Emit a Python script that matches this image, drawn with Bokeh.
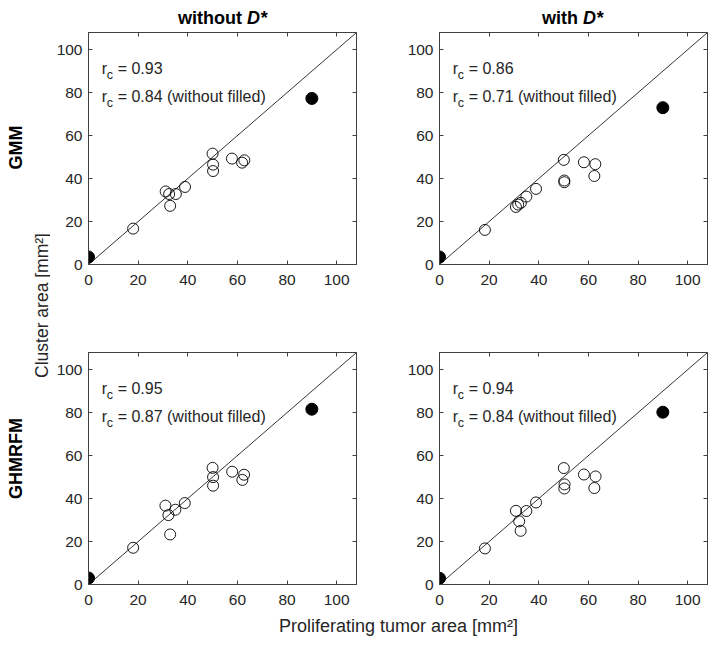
from math import pi
from bokeh.plotting import figure
from bokeh.layouts import row, column
from bokeh.models import Range1d, LinearAxis, FixedTicker, Label
from bokeh.embed import file_html
from bokeh.resources import INLINE

FONT = "Liberation Sans"
INK = "#262626"

# ---------------- data ----------------
ticks = [0, 20, 40, 60, 80, 100]
axis_limits = [0, 108]
identity = [0, 108]

col_titles = ["without", "with"]
col_titles_italic = "D*"
row_titles = ["GMM", "GHMRFM"]
x_label = "Proliferating tumor area [mm²]"
y_label = "Cluster area [mm²]"

filled_x = [0, 90]

# GMM, without D*
gmm_wo_x = [18.0, 31.1, 32.5, 32.9, 35.2, 38.9, 50.0, 50.2, 50.2, 57.8, 61.9, 62.8]
gmm_wo_y = [16.7, 34.0, 32.8, 27.3, 32.8, 36.1, 51.6, 46.5, 43.5, 49.3, 47.4, 48.5]
gmm_wo_filled_y = [3.5, 77.3]
gmm_wo_rc = ["0.93", "0.84"]

# GMM, with D*
gmm_w_x = [18.3, 30.8, 31.7, 32.8, 35.0, 38.9, 50.1, 50.3, 50.3, 58.2, 62.4, 62.8]
gmm_w_y = [16.1, 26.8, 27.9, 28.7, 31.6, 35.2, 48.7, 39.1, 38.3, 47.6, 41.2, 46.7]
gmm_w_filled_y = [3.5, 73.0]
gmm_w_rc = ["0.86", "0.71"]

# GHMRFM, without D*
ghm_wo_x = [18.0, 31.0, 32.2, 32.9, 35.0, 38.8, 50.0, 50.2, 50.2, 57.9, 62.7, 62.0]
ghm_wo_y = [17.1, 36.7, 32.3, 23.3, 34.8, 37.9, 54.3, 50.0, 46.0, 52.5, 51.1, 48.7]
ghm_wo_filled_y = [3.0, 81.6]
ghm_wo_rc = ["0.95", "0.87"]

# GHMRFM, with D*
ghm_w_x = [18.3, 30.8, 32.1, 32.7, 35.0, 38.9, 50.1, 50.4, 50.3, 58.2, 62.9, 62.4]
ghm_w_y = [16.8, 34.3, 29.4, 25.0, 34.2, 38.2, 54.2, 46.6, 44.7, 51.2, 50.3, 44.9]
ghm_w_filled_y = [2.9, 80.2]
ghm_w_rc = ["0.94", "0.84"]


def style_axis(ax, show_labels):
    ax.ticker = FixedTicker(ticks=ticks)
    ax.minor_tick_line_color = None
    ax.major_tick_in = 4
    ax.major_tick_out = 0
    ax.axis_line_color = "#404040"
    ax.major_tick_line_color = "#404040"
    ax.major_label_text_font = FONT
    if show_labels:
        ax.major_label_text_font_size = "15.5px"
        ax.major_label_text_color = INK
    else:
        ax.major_label_text_font_size = "0px"
        ax.major_label_text_color = None
        ax.major_label_standoff = 0


def panel(ox, oy, fy, rc, width, height, bl, br, bt, bb):
    p = figure(width=width, height=height, output_backend="svg",
               toolbar_location=None,
               x_range=Range1d(*axis_limits), y_range=Range1d(*axis_limits),
               min_border_left=bl, min_border_right=br,
               min_border_top=bt, min_border_bottom=bb)
    p.grid.visible = False
    p.outline_line_color = "#404040"
    p.background_fill_color = "white"
    p.border_fill_color = "white"
    style_axis(p.xaxis[0], True)
    style_axis(p.yaxis[0], True)
    p.xaxis[0].major_label_standoff = 10
    p.yaxis[0].major_label_standoff = 6
    top = LinearAxis()
    right = LinearAxis()
    style_axis(top, False)
    style_axis(right, False)
    p.add_layout(top, "above")
    p.add_layout(right, "right")

    p.line(identity, identity, line_color="black", line_width=0.8)
    p.scatter(ox, oy, size=11, marker="circle", fill_color=None,
              line_color="black", line_width=0.9)
    p.scatter(filled_x, fy, size=12, marker="circle", fill_color="black",
              line_color="black")

    for yb, val, suffix in [(91.3, rc[0], ""), (78.1, rc[1], " (without filled)")]:
        p.add_layout(Label(x=5.3, y=yb, text="r", text_font=FONT,
                           text_font_size="16px", text_color=INK,
                           text_baseline="alphabetic"))
        p.add_layout(Label(x=5.3, y=yb, x_offset=5, y_offset=-6.5, text="c",
                           text_font=FONT, text_font_size="12.5px",
                           text_color=INK, text_baseline="alphabetic"))
        p.add_layout(Label(x=5.3, y=yb, x_offset=16, text="= " + val + suffix,
                           text_font=FONT, text_font_size="16px",
                           text_color=INK, text_baseline="alphabetic"))
    return p


tl = panel(gmm_wo_x, gmm_wo_y, gmm_wo_filled_y, gmm_wo_rc, 316, 265, 38, 10, 1, 32)
tr = panel(gmm_w_x, gmm_w_y, gmm_w_filled_y, gmm_w_rc, 342, 265, 73, 1, 1, 32)
bl = panel(ghm_wo_x, ghm_wo_y, ghm_wo_filled_y, ghm_wo_rc, 316, 316, 38, 10, 56, 28)
br = panel(ghm_w_x, ghm_w_y, ghm_w_filled_y, ghm_w_rc, 342, 316, 73, 1, 56, 28)


def strip(w, h):
    s = figure(width=w, height=h, output_backend="svg", toolbar_location=None,
               x_range=Range1d(0, w), y_range=Range1d(h, 0),
               x_axis_type=None, y_axis_type=None, min_border=0)
    s.grid.visible = False
    s.outline_line_color = None
    s.border_fill_color = "white"
    s.background_fill_color = "white"
    return s


def bold_label(s, x, y, text, style="bold", align="left"):
    s.add_layout(Label(x=x, y=y, text=text, text_align=align,
                       text_baseline="alphabetic", text_font=FONT,
                       text_font_size="18px", text_font_style=style,
                       text_color="black"))


# column titles: "without D*" centred over the left column, "with D*" over the right
top = strip(658, 31)
bold_label(top, 172 + 19.5, 17, col_titles[0], align="right")
bold_label(top, 172 + 24.5, 17, col_titles_italic, style="bold italic")
bold_label(top, 522 + 5.5, 17, col_titles[1], align="right")
bold_label(top, 522 + 10.5, 17, col_titles_italic, style="bold italic")

left = strip(50, 646)
for yc, txt in [(147, row_titles[0]), (458, row_titles[1])]:
    left.add_layout(Label(x=15, y=yc, text=txt, angle=pi / 2,
                          text_align="center", text_baseline="alphabetic",
                          text_font=FONT, text_font_size="18px",
                          text_font_style="bold", text_color="black"))
left.add_layout(Label(x=41, y=305, text=y_label, angle=pi / 2,
                      text_align="center", text_baseline="alphabetic",
                      text_font=FONT, text_font_size="17.5px",
                      text_color=INK))

bottom = strip(658, 34)
bottom.add_layout(Label(x=348, y=13, text=x_label, text_align="center",
                        text_baseline="alphabetic", text_font=FONT,
                        text_font_size="18px", text_color=INK))

layout = row(left, column(top, row(tl, tr), row(bl, br), bottom))

open("out.html", "w").write(file_html(layout, INLINE))
